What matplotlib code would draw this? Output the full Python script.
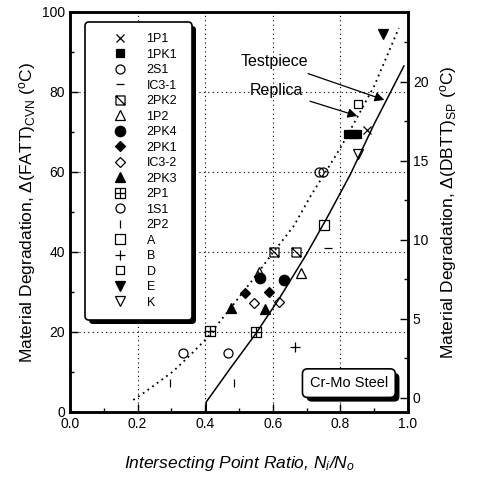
import matplotlib
matplotlib.use("Agg")
import matplotlib.pyplot as plt
import matplotlib.patheffects as pe
from matplotlib.path import Path
from matplotlib.ticker import MultipleLocator

plt.rcParams['font.family'] = ['Liberation Sans', 'DejaVu Sans']
plt.rcParams['mathtext.fontset'] = 'custom'
plt.rcParams['mathtext.rm'] = 'Liberation Sans'
plt.rcParams['mathtext.it'] = 'Liberation Sans:italic'

# sample data: (N_i/N_o, delta FATT)
p1P1_x, p1P1_y = [0.878], [70.5]
p1PK1_x, p1PK1_y = [0.822, 0.836, 0.848], [69.5, 69.5, 69.5]
p2S1_x, p2S1_y = [0.335, 0.736], [14.8, 60]
pIC31_x, pIC31_y = [0.762], [41]
p2PK2_x, p2PK2_y = [0.602, 0.668], [40, 40]
p1P2_x, p1P2_y = [0.558, 0.683], [35, 34.7]
p2PK4_x, p2PK4_y = [0.561, 0.633], [33.5, 33]
p2PK1_x, p2PK1_y = [0.519, 0.588], [29.7, 30]
pIC32_x, pIC32_y = [0.543, 0.617], [27.3, 27.5]
p2PK3_x, p2PK3_y = [0.475, 0.576], [26, 25.7]
p2P1_x, p2P1_y = [0.415, 0.549], [20.2, 20]
p1S1_x, p1S1_y = [0.466, 0.748], [14.8, 60]
p2P2_x, p2P2_y = [0.297, 0.484], [7.2, 7.2]
pA_x, pA_y = [0.752], [46.7]
pB_x, pB_y = [0.665], [16.3]
pD_x, pD_y = [0.852], [77]
pE_x, pE_y = [0.926], [94.5]
pK_x, pK_y = [0.852], [64.5]

# fitted curves
replica_x = [0.187, 0.217, 0.303, 0.347, 0.40, 0.466, 0.54, 0.602, 0.662, 0.712, 0.80, 0.852, 0.90, 0.973]
replica_y = [3, 4.7, 10, 13.5, 18, 25, 33, 40, 46.5, 54, 66, 74, 81.5, 96]
test_x = [0.403, 0.403, 0.475, 0.549, 0.62, 0.70, 0.76, 0.83, 0.90, 0.988]
test_y = [0, 2.5, 11, 19.5, 28.5, 39.5, 48.5, 59.5, 72, 86.5]

sq_slash = Path([(-1, -1), (1, -1), (1, 1), (-1, 1), (-1, -1), (-1, 1), (1, -1)],
                [Path.MOVETO, Path.LINETO, Path.LINETO, Path.LINETO, Path.LINETO,
                 Path.MOVETO, Path.LINETO])
sq_plus = Path([(-1, -1), (1, -1), (1, 1), (-1, 1), (-1, -1), (0, -1), (0, 1), (-1, 0), (1, 0)],
               [Path.MOVETO, Path.LINETO, Path.LINETO, Path.LINETO, Path.LINETO,
                Path.MOVETO, Path.LINETO, Path.MOVETO, Path.LINETO])

fig = plt.figure(figsize=(4.8, 4.79), dpi=100)
ax = fig.add_axes([0.146, 0.140, 0.704, 0.835])

ax.plot(replica_x, replica_y, color='k', ls=(0, (1, 2.2)), lw=1.3)
ax.plot(test_x, test_y, color='k', ls='-', lw=1.1)

series = [
    ('1P1', p1P1_x, p1P1_y, 'x', 'none', 6),
    ('1PK1', p1PK1_x, p1PK1_y, 's', 'k', 6),
    ('2S1', p2S1_x, p2S1_y, 'o', 'none', 6.5),
    ('IC3-1', pIC31_x, pIC31_y, '_', 'none', 6),
    ('2PK2', p2PK2_x, p2PK2_y, sq_slash, 'none', 6.5),
    ('1P2', p1P2_x, p1P2_y, '^', 'none', 6.5),
    ('2PK4', p2PK4_x, p2PK4_y, 'o', 'k', 7.5),
    ('2PK1', p2PK1_x, p2PK1_y, 'D', 'k', 5),
    ('IC3-2', pIC32_x, pIC32_y, 'D', 'none', 5),
    ('2PK3', p2PK3_x, p2PK3_y, '^', 'k', 6.5),
    ('2P1', p2P1_x, p2P1_y, sq_plus, 'none', 6.5),
    ('1S1', p1S1_x, p1S1_y, 'o', 'none', 6.5),
    ('2P2', p2P2_x, p2P2_y, '|', 'none', 6),
    ('A', pA_x, pA_y, 's', 'none', 6.5),
    ('B', pB_x, pB_y, '+', 'none', 6.5),
    ('D', pD_x, pD_y, 's', 'none', 6),
    ('E', pE_x, pE_y, 'v', 'k', 6.5),
    ('K', pK_x, pK_y, 'v', 'none', 6.5),
]
for name, xs, ys, m, fc, ms in series:
    ax.plot(xs, ys, ls='none', marker=m, mfc=fc, mec='k', mew=0.9, ms=ms,
            color='k', label=name)

ax.set_xlim(0, 1.0)
ax.set_ylim(0, 100)
ax.xaxis.set_major_locator(MultipleLocator(0.2))
ax.xaxis.set_minor_locator(MultipleLocator(0.1))
ax.yaxis.set_major_locator(MultipleLocator(20))
ax.yaxis.set_minor_locator(MultipleLocator(10))
ax.xaxis.set_major_formatter(plt.FuncFormatter(lambda v, p: f'{v:.1f}'))
ax.tick_params(which='both', direction='in', labelsize=10, top=False)
ax.tick_params(which='major', length=6, width=1)
ax.tick_params(which='minor', length=3, width=1)
ax.grid(True, which='major', ls=(0, (1, 3)), color='k', lw=0.8)
for s in ax.spines.values():
    s.set_linewidth(1.8)

ax.set_xlabel(r'Intersecting Point Ratio, N$_\mathit{i}$/N$_\mathit{o}$',
              style='italic', fontsize=12.5, labelpad=17)
ax.set_ylabel(r'Material Degradation, Δ(FATT)$_\mathrm{CVN}$ ($^\mathrm{o}$C)',
              fontsize=12.5, labelpad=3)

ax2 = ax.twinx()
ax2.set_ylim(-0.886, 24.43)
ax2.yaxis.set_major_locator(MultipleLocator(5))
ax2.yaxis.set_minor_locator(MultipleLocator(2.5))
ax2.tick_params(which='both', direction='in', labelsize=10)
ax2.tick_params(which='major', length=6, width=1)
ax2.tick_params(which='minor', length=3, width=1)
ax2.set_ylabel(r'Material Degradation, Δ(DBTT)$_\mathrm{SP}$ ($^\mathrm{o}$C)',
               fontsize=12.5, labelpad=7)
for s in ax2.spines.values():
    s.set_linewidth(1.8)

shadow = [pe.SimplePatchShadow(offset=(3, -3), shadow_rgbFace='k', alpha=1), pe.Normal()]

leg = ax.legend(loc='upper left', bbox_to_anchor=(0.045, 0.235, 0.3145, 0.74),
                mode='expand', borderaxespad=0,
                fontsize=9, numpoints=1, handlelength=3.7, handletextpad=0.3,
                labelspacing=0.28, borderpad=0.9, fancybox=True, framealpha=1,
                edgecolor='k')
leg.get_frame().set_linewidth(1.2)
leg.get_frame().set_boxstyle('round', pad=0, rounding_size=0.3)
leg.get_frame().set_path_effects(shadow)

ax.annotate('Testpiece', xy=(0.93, 78), xytext=(0.705, 87.5), fontsize=11.5,
            ha='right', va='center',
            arrowprops=dict(arrowstyle='-|>', color='k', lw=0.9, mutation_scale=14,
                            shrinkA=3, shrinkB=0))
ax.annotate('Replica', xy=(0.85, 74), xytext=(0.69, 80.3), fontsize=11.5,
            ha='right', va='center',
            arrowprops=dict(arrowstyle='-|>', color='k', lw=0.9, mutation_scale=14,
                            shrinkA=3, shrinkB=0))

t = ax.text(0.825, 7.2, 'Cr-Mo Steel', fontsize=10.5, ha='center', va='center',
            bbox=dict(boxstyle='round,pad=0.5,rounding_size=0.35', fc='white', ec='k', lw=1.2))
t.get_bbox_patch().set_path_effects(shadow)

fig.savefig('out.png', dpi=100)
